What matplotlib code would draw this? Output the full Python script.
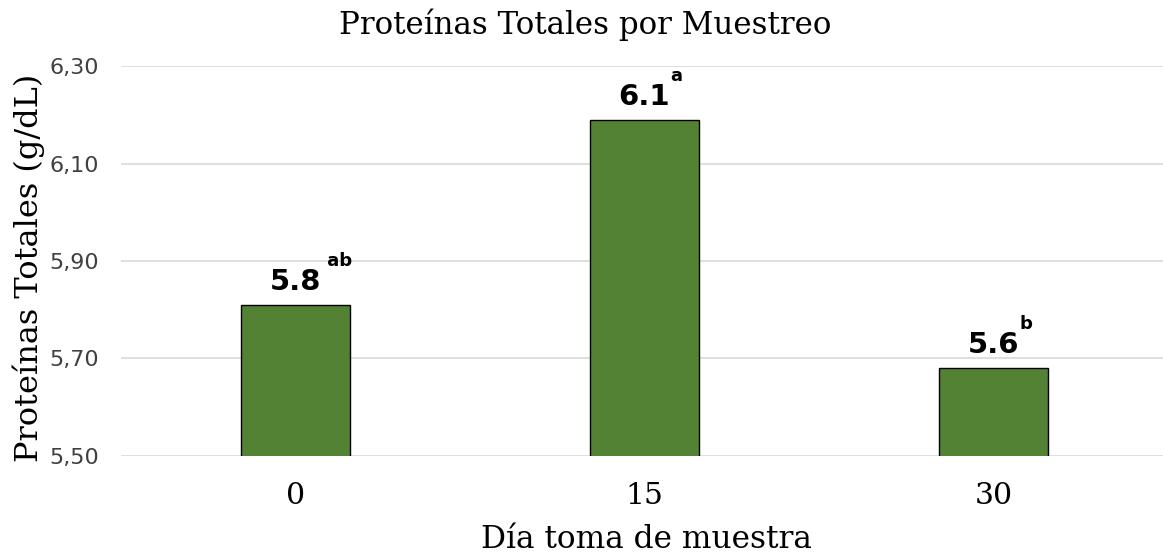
import matplotlib
matplotlib.use("Agg")
import matplotlib.pyplot as plt
from matplotlib.ticker import FuncFormatter

categories = ["0", "15", "30"]
values = [5.81, 6.19, 5.68]
value_labels = ["5.8", "6.1", "5.6"]
letters = [" ab", "a", "b"]
yticks = [5.50, 5.70, 5.90, 6.10, 6.30]

title = "Proteínas Totales por Muestreo"
xlabel = "Día toma de muestra"
ylabel = "Proteínas Totales (g/dL)"

W, H = 1163, 558
fig = plt.figure(figsize=(W / 100, H / 100), dpi=100)
left, right = 121, 1168
bottom, top = 456, 66
ax = fig.add_axes([left / W, 1 - bottom / H, (right - left) / W, (bottom - top) / H])

x = list(range(len(categories)))
bars = ax.bar(x, values, width=0.315, color="#548235", edgecolor="black",
              linewidth=1.0, zorder=3)
ax.set_xlim(-0.5, len(categories) - 0.5)
ax.set_ylim(yticks[0], yticks[-1])
ax.set_yticks(yticks)
ax.yaxis.set_major_formatter(FuncFormatter(lambda v, p: f"{v:.2f}".replace(".", ",")))
ax.set_xticks(x)
ax.set_xticklabels(categories, fontfamily="DejaVu Serif", fontsize=21.5)
for lab in ax.get_yticklabels():
    lab.set_fontfamily("DejaVu Sans")
    lab.set_fontsize(16)
    lab.set_color("#404040")
ax.tick_params(axis="y", length=0, pad=16)
ax.tick_params(axis="x", length=0, pad=19)
ax.grid(axis="y", color="#d9d9d9", linewidth=1.2, zorder=0)
for s in ax.spines.values():
    s.set_visible(False)

ax.set_title(title, fontfamily="DejaVu Serif", fontsize=22.2,
             x=(585 - left) / (right - left), y=(bottom - 25) / (bottom - top),
             va="center", pad=0)
ax.set_xlabel(xlabel, fontfamily="DejaVu Serif", fontsize=22.5)
ax.xaxis.set_label_coords((646 - left) / (right - left), (bottom - 540) / (bottom - top))
ax.xaxis.label.set_va("center")
ax.set_ylabel(ylabel, fontfamily="DejaVu Serif", fontsize=23)
ax.yaxis.set_label_coords((29 - left) / (right - left), (bottom - 268) / (bottom - top))
ax.yaxis.label.set_va("center")

for xi, v, lab, let in zip(x, values, value_labels, letters):
    t = ax.annotate(lab, xy=(xi, v), xytext=(0, 15), textcoords="offset pixels",
                    ha="center", va="baseline", fontsize=21, fontweight="bold",
                    fontfamily="DejaVu Sans", zorder=5)
    ax.annotate(let, xy=(1, 0), xycoords=t, xytext=(0, 30), textcoords="offset pixels",
                ha="left", va="baseline", fontsize=13, fontweight="bold",
                fontfamily="DejaVu Sans", zorder=5)

fig.savefig("out.png", dpi=100)
